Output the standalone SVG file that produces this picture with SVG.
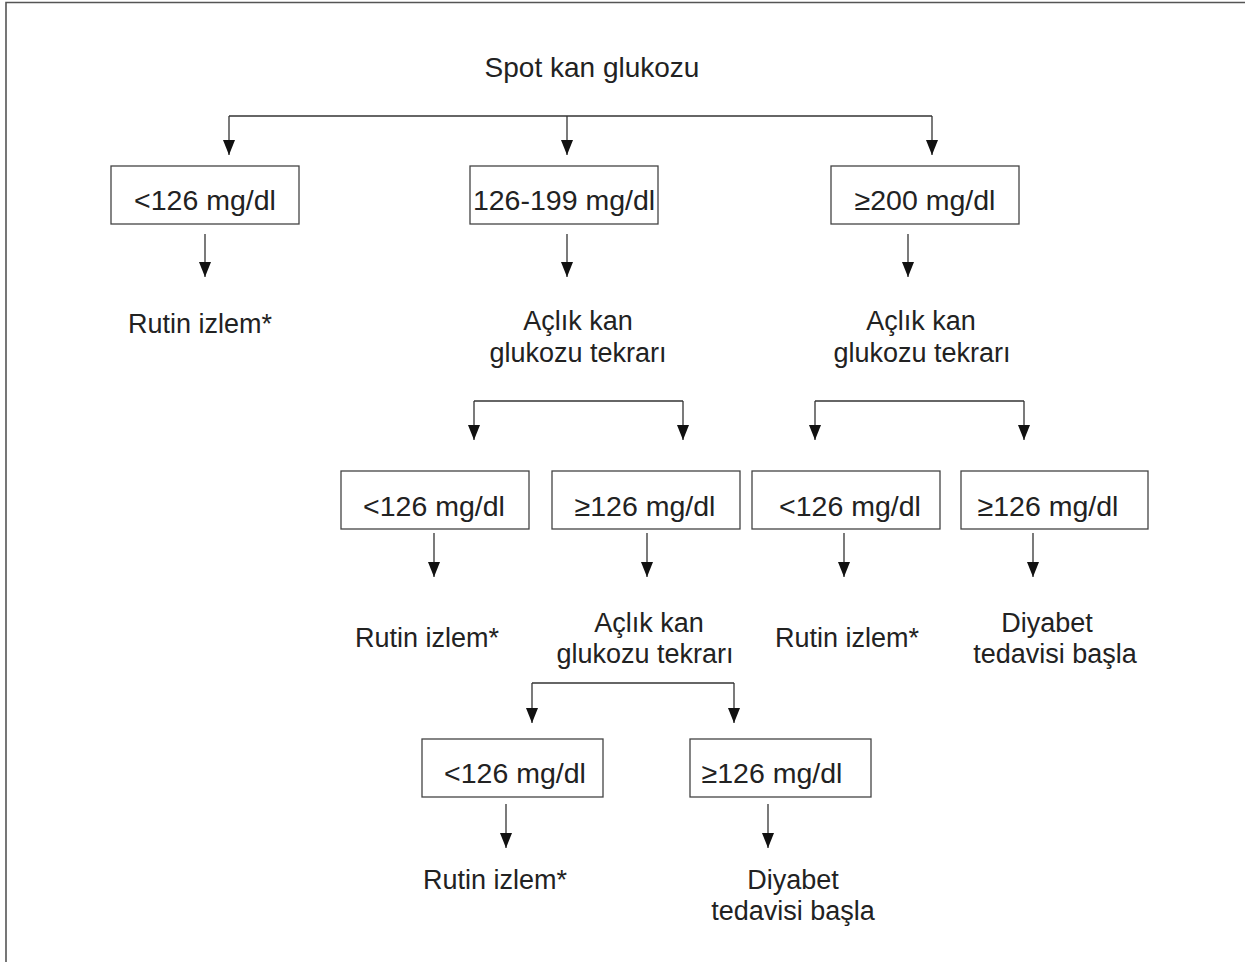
<svg xmlns="http://www.w3.org/2000/svg" width="1245" height="962" viewBox="0 0 1245 962">
<style>
.frame{fill:none;stroke:#555;stroke-width:1.6}
.box{fill:#fff;stroke:#444;stroke-width:1.3}
.bt{font-family:"Liberation Sans",Arial,sans-serif;font-size:28.5px;fill:#222;text-anchor:middle}
.lt{font-family:"Liberation Sans",Arial,sans-serif;font-size:27px;fill:#222;text-anchor:middle}
.conn{fill:none;stroke:#333;stroke-width:1.3}
.arr{fill:none;stroke:#333;stroke-width:1.3;marker-end:url(#ah)}
</style>
<defs>
<marker id="ah" markerUnits="userSpaceOnUse" markerWidth="15" markerHeight="12" refX="15" refY="6" orient="auto">
<path d="M0,0 L15,6 L0,12 z" fill="#111"/>
</marker>
</defs>
<rect width="1245" height="962" fill="#fff"/>
<path class="frame" d="M6,962 L6,2.5 L1245,2.5"/>

<g id="connectors">
<path class="conn" d="M229,116 L932,116"/>
<path class="arr" d="M229,116 L229,155"/>
<path class="arr" d="M567,116 L567,155"/>
<path class="arr" d="M932,116 L932,155"/>
<path class="arr" d="M205,234 L205,277"/>
<path class="arr" d="M567,234 L567,277"/>
<path class="arr" d="M908,234 L908,277"/>
<path class="conn" d="M474,401 L683,401"/>
<path class="arr" d="M474,401 L474,440"/>
<path class="arr" d="M683,401 L683,440"/>
<path class="conn" d="M815,401 L1024,401"/>
<path class="arr" d="M815,401 L815,440"/>
<path class="arr" d="M1024,401 L1024,440"/>
<path class="arr" d="M434,533 L434,577"/>
<path class="arr" d="M647,533 L647,577"/>
<path class="arr" d="M844,533 L844,577"/>
<path class="arr" d="M1033,533 L1033,577"/>
<path class="conn" d="M532,683 L734,683"/>
<path class="arr" d="M532,683 L532,723"/>
<path class="arr" d="M734,683 L734,723"/>
<path class="arr" d="M506,804 L506,848"/>
<path class="arr" d="M768,804 L768,848"/>
</g>

<g id="root"><text class="lt" x="592" y="77" style="font-size:28px">Spot kan glukozu</text></g>

<g id="box1"><rect class="box" x="111" y="166" width="188" height="58"/><text class="bt" x="205" y="210">&lt;126 mg/dl</text></g>
<g id="box2"><rect class="box" x="470" y="166" width="188" height="58"/><text class="bt" x="564" y="210">126-199 mg/dl</text></g>
<g id="box3"><rect class="box" x="831" y="166" width="188" height="58"/><text class="bt" x="925" y="210">≥200 mg/dl</text></g>

<g id="out1"><text class="lt" x="200" y="333">Rutin izlem*</text></g>
<g id="rep1"><text class="lt" x="578" y="330">Açlık kan</text><text class="lt" x="578" y="362">glukozu tekrarı</text></g>
<g id="rep2"><text class="lt" x="921" y="330">Açlık kan</text><text class="lt" x="922" y="362">glukozu tekrarı</text></g>

<g id="box4"><rect class="box" x="341" y="471" width="188" height="58"/><text class="bt" x="434" y="516">&lt;126 mg/dl</text></g>
<g id="box5"><rect class="box" x="552" y="471" width="188" height="58"/><text class="bt" x="645" y="516">≥126 mg/dl</text></g>
<g id="box6"><rect class="box" x="752" y="471" width="188" height="58"/><text class="bt" x="850" y="516">&lt;126 mg/dl</text></g>
<g id="box7"><rect class="box" x="961" y="471" width="187" height="58"/><text class="bt" x="1048" y="516">≥126 mg/dl</text></g>

<g id="out2"><text class="lt" x="427" y="647">Rutin izlem*</text></g>
<g id="rep3"><text class="lt" x="649" y="632">Açlık kan</text><text class="lt" x="645" y="663">glukozu tekrarı</text></g>
<g id="out3"><text class="lt" x="847" y="647">Rutin izlem*</text></g>
<g id="diab1"><text class="lt" x="1047" y="632">Diyabet</text><text class="lt" x="1055" y="663">tedavisi başla</text></g>

<g id="box8"><rect class="box" x="422" y="739" width="181" height="58"/><text class="bt" x="515" y="783">&lt;126 mg/dl</text></g>
<g id="box9"><rect class="box" x="690" y="739" width="181" height="58"/><text class="bt" x="772" y="783">≥126 mg/dl</text></g>

<g id="out4"><text class="lt" x="495" y="889">Rutin izlem*</text></g>
<g id="diab2"><text class="lt" x="793" y="889">Diyabet</text><text class="lt" x="793" y="920">tedavisi başla</text></g>
</svg>
